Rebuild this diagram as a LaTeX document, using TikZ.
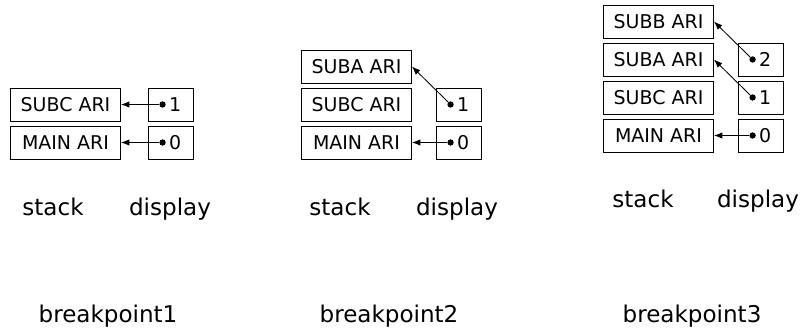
\documentclass[tikz,border=0pt]{standalone}
\usepackage{fontspec}
\setmainfont{DejaVu Sans}
\usetikzlibrary{arrows.meta}

\tikzset{
	frame/.style={draw, line width=0.6pt, minimum width=2.75cm, minimum height=0.825cm, inner sep=0pt, font=\fontsize{13.5}{16}\selectfont},
	slot/.style={draw, line width=0.6pt, minimum width=1.125cm, minimum height=0.825cm, inner sep=0pt, font=\fontsize{13.5}{16}\selectfont},
	pin/.style={circle, fill=black, inner sep=0pt, minimum size=4.5pt},
	link/.style={-{Latex[length=6pt, width=4.5pt]}, line width=0.6pt},
	caption/.style={anchor=base, font=\fontsize{16.4}{19}\selectfont},
}

\begin{document}
\begin{tikzpicture}
	\useasboundingbox (0, 0) rectangle (20.1, 8.2);
	
	% breakpoint1
	\node[frame] (subcA) at (1.6375, 5.5875) {SUBC ARI};
	\node[frame] (mainA) at (1.6375, 4.6375) {MAIN ARI};
	\node[slot] (oneA) at (4.2625, 5.5875) {\hspace{0.5em}1};
	\node[slot] (zeroA) at (4.2625, 4.6375) {\hspace{0.5em}0};
	\node[pin] (pOneA) at ([xshift=0.375cm]oneA.west) {};
	\node[pin] (pZeroA) at ([xshift=0.375cm]zeroA.west) {};
	\draw[link] (pOneA) -- (subcA.east);
	\draw[link] (pZeroA) -- (mainA.east);
	
	% breakpoint2
	\node[frame] (subaB) at (8.9125, 6.5375) {SUBA ARI};
	\node[frame] (subcB) at (8.9125, 5.5875) {SUBC ARI};
	\node[frame] (mainB) at (8.9125, 4.6375) {MAIN ARI};
	\node[slot] (oneB) at (11.4625, 5.5875) {\hspace{0.5em}1};
	\node[slot] (zeroB) at (11.4625, 4.6375) {\hspace{0.5em}0};
	\node[pin] (pOneB) at ([xshift=0.375cm]oneB.west) {};
	\node[pin] (pZeroB) at ([xshift=0.375cm]zeroB.west) {};
	\draw[link] (pOneB) -- (subaB.east);
	\draw[link] (pZeroB) -- (mainB.east);
	
	% breakpoint3
	\node[frame] (subbC) at (16.4625, 7.6625) {SUBB ARI};
	\node[frame] (subaC) at (16.4625, 6.7125) {SUBA ARI};
	\node[frame] (subcC) at (16.4625, 5.7625) {SUBC ARI};
	\node[frame] (mainC) at (16.4625, 4.8125) {MAIN ARI};
	\node[slot] (twoC) at (19.0125, 6.7125) {\hspace{0.5em}2};
	\node[slot] (oneC) at (19.0125, 5.7625) {\hspace{0.5em}1};
	\node[slot] (zeroC) at (19.0125, 4.8125) {\hspace{0.5em}0};
	\node[pin] (pTwoC) at ([xshift=0.375cm]twoC.west) {};
	\node[pin] (pOneC) at ([xshift=0.375cm]oneC.west) {};
	\node[pin] (pZeroC) at ([xshift=0.375cm]zeroC.west) {};
	\draw[link] (pTwoC) -- (subbC.east);
	\draw[link] (pOneC) -- (subaC.east);
	\draw[link] (pZeroC) -- (mainC.east);
	
	% captions
	\node[caption] (stackA) at (1.325, 2.8) {stack};
	\node[caption] (dispA) at (4.25, 2.8) {display};
	\node[caption] (stackB) at (8.5, 2.8) {stack};
	\node[caption] (dispB) at (11.425, 2.8) {display};
	\node[caption] (stackC) at (16.075, 3.0) {stack};
	\node[caption] (dispC) at (18.95, 3.0) {display};
	
	\node[caption] (bpA) at (2.7, 0.15) {breakpoint1};
	\node[caption] (bpB) at (9.725, 0.15) {breakpoint2};
	\node[caption] (bpC) at (17.3, 0.15) {breakpoint3};
\end{tikzpicture}
\end{document}
